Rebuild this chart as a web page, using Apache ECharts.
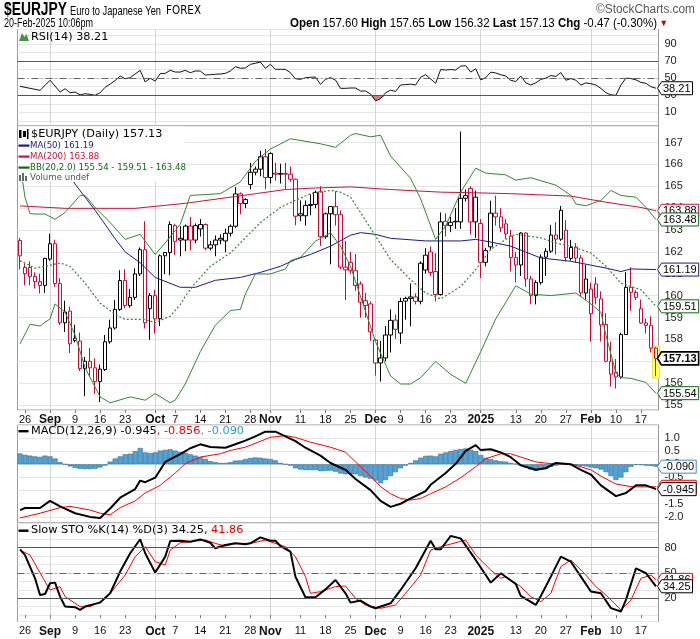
<!DOCTYPE html>
<html><head><meta charset="utf-8">
<script src="https://cdn.jsdelivr.net/npm/echarts@6/dist/echarts.min.js"></script>
<style>html,body{margin:0;padding:0;background:#fff}#c{width:700px;height:639px}</style>
</head><body><div id="c"></div>
<script>
const dates = ['2024-08-23','2024-08-26','2024-08-27','2024-08-28','2024-08-29','2024-08-30',
'2024-09-02','2024-09-03','2024-09-04','2024-09-05','2024-09-06','2024-09-09','2024-09-10','2024-09-11','2024-09-12','2024-09-13',
'2024-09-16','2024-09-17','2024-09-18','2024-09-19','2024-09-20','2024-09-23','2024-09-24','2024-09-25','2024-09-26','2024-09-27','2024-09-30',
'2024-10-01','2024-10-02','2024-10-03','2024-10-04','2024-10-07','2024-10-08','2024-10-09','2024-10-10','2024-10-11','2024-10-14','2024-10-15',
'2024-10-16','2024-10-17','2024-10-18','2024-10-21','2024-10-22','2024-10-23','2024-10-24','2024-10-25','2024-10-28','2024-10-29','2024-10-30','2024-10-31',
'2024-11-01','2024-11-04','2024-11-05','2024-11-06','2024-11-07','2024-11-08','2024-11-11','2024-11-12','2024-11-13','2024-11-14','2024-11-15',
'2024-11-18','2024-11-19','2024-11-20','2024-11-21','2024-11-22','2024-11-25','2024-11-26','2024-11-27','2024-11-28','2024-11-29',
'2024-12-02','2024-12-03','2024-12-04','2024-12-05','2024-12-06','2024-12-09','2024-12-10','2024-12-11','2024-12-12','2024-12-13',
'2024-12-16','2024-12-17','2024-12-18','2024-12-19','2024-12-20','2024-12-23','2024-12-24','2024-12-26','2024-12-27','2024-12-30','2024-12-31',
'2025-01-02','2025-01-03','2025-01-06','2025-01-07','2025-01-08','2025-01-09','2025-01-10','2025-01-13','2025-01-14','2025-01-15','2025-01-16','2025-01-17',
'2025-01-20','2025-01-21','2025-01-22','2025-01-23','2025-01-24','2025-01-27','2025-01-28','2025-01-29','2025-01-30','2025-01-31',
'2025-02-03','2025-02-04','2025-02-05','2025-02-06','2025-02-07','2025-02-10','2025-02-11','2025-02-12','2025-02-13','2025-02-14',
'2025-02-17','2025-02-18','2025-02-19','2025-02-20'];

const opens = [162.52,161.0,161.29,160.88,160.64,160.47,161.67,162.37,160.55,158.76,
159.29,157.95,157.92,156.67,157.0,156.7,156.07,156.62,157.89,158.52,
159.37,160.69,159.54,159.92,160.99,162.1,159.4,160.0,158.94,161.82,
161.97,163.2,162.62,162.54,163.18,162.54,163.05,163.25,162.17,162.32,
162.54,162.5,162.85,163.17,164.65,164.21,165.08,165.64,165.78,166.35,
165.4,165.6,165.55,165.58,165.55,165.32,163.74,163.65,164.12,164.17,
164.75,162.69,163.74,164.07,163.7,161.3,161.52,161.14,160.53,159.77,
159.62,157.97,156.92,157.15,158.2,158.88,158.29,159.75,159.87,159.94,
159.74,161.17,162.0,161.1,160.05,163.4,163.2,163.4,163.37,164.45,
164.9,163.37,163.3,161.52,162.23,163.77,163.6,163.28,162.72,161.74,
161.4,162.86,160.76,160.0,160.6,161.76,162.03,162.77,162.58,162.99,
161.7,162.22,161.72,160.12,159.17,160.53,159.85,158.68,157.0,156.5,
156.28,158.22,160.38,160.15,159.4,158.75,158.64,157.60];
const highs = [162.64,161.47,161.57,161.06,161.0,161.73,162.83,162.55,160.8,159.77,
159.5,158.67,158.31,157.2,157.6,157.13,156.85,158.2,158.9,159.8,
161.16,161.2,160.3,161.25,162.2,163.4,160.12,160.27,161.88,162.0,
163.4,163.28,163.18,163.25,163.6,163.3,163.5,163.3,162.5,162.75,
162.8,163.06,163.25,164.96,164.72,164.45,166.07,165.9,166.62,166.7,
166.55,166.07,166.03,166.07,165.9,165.35,164.35,164.35,164.63,164.8,
165.0,163.8,164.1,164.77,163.9,162.5,162.0,161.9,160.65,160.12,
159.74,158.02,157.93,158.61,159.37,159.14,159.9,159.95,160.56,160.1,
161.57,162.17,162.25,161.94,163.8,163.76,163.6,164.0,167.5,164.85,
165.0,164.8,163.5,162.17,164.34,164.57,164.0,163.5,163.0,162.0,
162.9,162.9,160.9,160.7,161.88,162.17,163.23,163.36,164.1,163.45,
162.55,162.4,161.85,161.4,160.6,160.85,160.2,159.2,157.9,157.1,
158.3,161.07,161.3,160.25,159.82,158.95,159.05,157.65];
const lows = [161.2,160.47,160.47,160.33,160.1,160.12,161.6,160.4,158.66,158.34,
157.38,157.86,156.55,155.4,156.27,155.51,155.14,156.55,157.8,158.45,
159.3,159.42,159.45,159.8,160.9,158.5,157.98,158.26,158.6,160.98,
160.93,161.86,161.8,162.03,162.07,162.4,162.7,162.07,162.07,161.8,
162.35,161.98,162.7,163.1,163.72,164.0,164.86,165.5,165.46,164.86,
165.13,165.26,165.13,164.87,165.2,163.22,163.4,163.2,163.67,164.0,
162.27,162.6,161.43,163.2,161.2,159.8,161.0,160.22,158.99,158.99,
157.93,156.34,156.07,157.0,157.4,158.02,157.8,158.9,158.6,159.6,
159.6,161.0,160.9,159.74,160.0,162.7,162.9,163.05,163.05,164.3,
162.8,162.64,160.8,161.34,162.1,163.2,162.9,162.6,161.1,160.6,
160.9,160.4,159.6,159.6,160.5,160.9,161.95,161.88,162.5,161.56,
161.6,161.5,159.95,159.82,157.89,159.6,157.9,156.95,155.84,155.75,
156.2,158.2,159.3,159.8,158.73,158.26,157.4,156.32];
const closes = [161.82,161.29,160.88,160.64,160.46,161.7,162.37,160.55,158.76,159.25,
157.8,158.05,156.66,157.0,156.7,156.07,156.64,157.89,158.52,159.37,
160.69,159.54,159.92,160.99,162.1,158.76,160.0,158.94,161.82,161.97,
163.25,162.48,162.54,163.18,162.54,163.2,163.25,162.17,162.32,162.54,
162.62,162.85,163.17,164.65,164.21,164.39,165.64,165.78,166.35,165.4,
166.5,165.55,165.58,165.55,165.32,163.63,163.65,164.12,164.17,164.72,
162.69,163.74,164.07,163.7,161.3,161.18,161.14,160.46,159.7,159.55,
158.34,156.92,157.15,158.2,158.87,158.46,159.73,159.87,159.94,159.74,
161.48,161.85,161.06,160.05,163.37,163.2,163.35,163.37,164.45,164.57,
163.37,164.5,161.52,162.06,163.77,163.6,163.1,162.82,161.74,161.4,
162.86,160.76,160.0,160.6,161.76,162.03,162.77,162.58,163.9,161.74,
162.2,161.72,160.12,160.76,160.3,159.92,158.66,157.0,156.41,156.28,
158.22,160.38,160.15,159.92,158.75,158.64,157.60,157.13];

const ma50 = [['2024-09-02',166.9],['2024-09-09',165.1],['2024-09-13',163.9],['2024-09-19',162.6],['2024-09-23',162.0],['2024-09-26',161.5],['2024-10-01',160.83],['2024-10-08',160.38],['2024-10-11',160.38],['2024-10-17',160.7],['2024-10-24',160.83],['2024-10-30',161.06],['2024-11-05',161.34],['2024-11-08',161.65],['2024-11-13',161.88],['2024-11-19',162.26],['2024-11-25',162.76],['2024-11-27',162.88],['2024-12-02',162.8],['2024-12-05',162.62],['2024-12-16',162.5],['2024-12-26',162.5],['2024-12-31',162.57],['2025-01-06',162.45],['2025-01-10',162.26],['2025-01-20',161.72],['2025-01-28',161.57],['2025-02-06',161.26],['2025-02-11',161.1],['2025-02-13',161.22],['2025-02-20',161.19]];
const ma200 = [['2024-08-23',164.1],['2024-09-05',163.99],['2024-09-25',163.99],['2024-10-09',164.22],['2024-10-23',164.53],['2024-11-06',164.85],['2024-11-14',164.92],['2024-11-25',164.97],['2024-12-05',164.85],['2024-12-19',164.73],['2024-12-31',164.70],['2025-01-10',164.66],['2025-01-28',164.55],['2025-02-06',164.27],['2025-02-17',164.03],['2025-02-20',163.88]];
const bbUpper = [['2024-08-23',166.0],['2024-08-26',164.5],['2024-08-27',163.75],['2024-08-28',163.73],['2024-08-30',163.73],['2024-09-03',163.49],['2024-09-05',163.8],['2024-09-10',164.58],['2024-09-11',164.58],['2024-09-13',164.03],['2024-09-18',163.34],['2024-09-23',162.57],['2024-09-26',162.8],['2024-10-01',161.88],['2024-10-03',162.41],['2024-10-08',163.26],['2024-10-10',164.58],['2024-10-18',164.66],['2024-10-24',165.2],['2024-10-29',166.14],['2024-11-01',166.7],['2024-11-07',167.17],['2024-11-15',166.94],['2024-11-20',166.78],['2024-11-25',167.33],['2024-11-26',167.41],['2024-11-29',167.26],['2024-12-03',167.33],['2024-12-05',166.38],['2024-12-11',165.36],['2024-12-13',164.43],['2024-12-18',162.57],['2024-12-20',163.18],['2024-12-26',164.73],['2024-12-31',165.83],['2025-01-03',165.6],['2025-01-09',165.52],['2025-01-13',165.28],['2025-01-16',165.39],['2025-01-23',165.05],['2025-01-28',164.58],['2025-01-29',164.19],['2025-01-31',164.11],['2025-02-05',164.35],['2025-02-07',164.81],['2025-02-11',164.58],['2025-02-14',164.5],['2025-02-18',164.03],['2025-02-20',163.48]];
const bbMid = [['2024-08-23',161.6],['2024-08-28',161.26],['2024-08-30',161.34],['2024-09-04',161.49],['2024-09-06',161.34],['2024-09-11',160.57],['2024-09-16',159.66],['2024-09-19',159.14],['2024-09-23',158.91],['2024-09-27',158.91],['2024-10-01',158.76],['2024-10-04',159.06],['2024-10-08',159.59],['2024-10-09',159.97],['2024-10-11',160.57],['2024-10-16',161.34],['2024-10-22',161.95],['2024-10-25',162.64],['2024-10-30',163.34],['2024-11-05',164.03],['2024-11-08',164.35],['2024-11-13',164.66],['2024-11-19',164.81],['2024-11-21',164.73],['2024-11-25',164.5],['2024-11-27',163.8],['2024-12-02',162.72],['2024-12-05',161.65],['2024-12-11',160.73],['2024-12-16',160.12],['2024-12-19',159.85],['2024-12-26',160.42],['2024-12-31',161.19],['2025-01-06',162.11],['2025-01-10',162.72],['2025-01-13',162.8],['2025-01-20',162.64],['2025-01-23',162.41],['2025-01-28',162.26],['2025-02-03',161.95],['2025-02-06',161.34],['2025-02-11',160.57],['2025-02-17',160.27],['2025-02-20',159.51]];
const bbLower = [['2024-08-23',157.79],['2024-08-27',158.69],['2024-08-29',158.61],['2024-09-02',158.94],['2024-09-03',159.62],['2024-09-05',159.24],['2024-09-09',158.19],['2024-09-11',156.7],['2024-09-16',155.37],['2024-09-18',155.1],['2024-09-24',155.37],['2024-09-27',155.22],['2024-10-01',155.52],['2024-10-04',155.1],['2024-10-07',155.22],['2024-10-09',155.96],['2024-10-14',157.44],['2024-10-17',158.64],['2024-10-22',159.32],['2024-10-24',159.37],['2024-10-25',160.07],['2024-10-29',160.99],['2024-11-01',160.99],['2024-11-06',161.22],['2024-11-07',161.6],['2024-11-11',161.75],['2024-11-14',162.49],['2024-11-19',162.87],['2024-11-21',162.26],['2024-11-25',161.34],['2024-12-02',157.89],['2024-12-05',156.33],['2024-12-09',155.96],['2024-12-11',155.96],['2024-12-13',156.25],['2024-12-18',156.99],['2024-12-23',156.4],['2024-12-27',155.99],['2025-01-02',157.44],['2025-01-07',158.94],['2025-01-13',160.45],['2025-01-16',160.07],['2025-01-22',160.0],['2025-01-29',160.12],['2025-02-03',159.62],['2025-02-05',159.24],['2025-02-06',158.19],['2025-02-10',156.47],['2025-02-11',156.25],['2025-02-13',156.22],['2025-02-18',156.03],['2025-02-20',155.54]];

const rsi = [40.5,39.3,38.1,37.0,35.8,41.6,47.5,40.8,33.8,37.7,
33.0,33.8,30.4,31.8,31.1,30.0,33.0,39.3,43.1,47.2,
52.5,49.3,50.5,54.8,59.1,45.5,49.8,46.6,55.2,55.6,
59.1,57.1,57.1,59.1,56.3,58.3,58.3,53.6,54.0,54.5,
54.8,55.6,58.3,63.3,61.5,61.8,66.1,67.3,68.8,61.5,
66.1,60.3,60.3,60.3,56.3,49.3,48.6,50.5,51.0,51.3,
42.8,48.6,50.5,47.8,38.1,38.1,38.5,38.5,35,35,
31.5,23.5,26,33,36,34.5,42,42.5,43,42,
51,54,49,44,60,59.5,60,59.5,64,64.5,
57,61,48,50.5,57,56,54,52.5,47.5,46,
52.5,44.5,42,44.5,48.5,50,53,52,56.5,47.5,
49.5,47.5,42,44.5,43.5,42,38,33,30.5,30,
42,50,49.5,48,45,44,40,38.21];

const macdHist = [0.41,0.36,0.33,0.30,0.28,0.33,0.30,0.22,0.08,0.0,
-0.08,-0.14,-0.17,-0.18,-0.18,-0.17,-0.12,-0.05,0.1,0.22,
0.3,0.38,0.4,0.5,0.62,0.45,0.43,0.45,0.52,0.55,
0.57,0.52,0.47,0.44,0.38,0.33,0.28,0.2,0.12,0.08,
0.05,0.05,0.08,0.14,0.15,0.2,0.24,0.26,0.25,0.22,
0.2,0.15,0.05,0.0,-0.05,-0.15,-0.2,-0.22,-0.22,-0.22,
-0.26,-0.25,-0.24,-0.28,-0.35,-0.38,-0.37,-0.38,-0.45,-0.5,
-0.55,-0.62,-0.72,-0.6,-0.45,-0.3,-0.15,-0.05,0.05,0.15,
0.25,0.32,0.33,0.3,0.4,0.45,0.5,0.55,0.58,0.6,
0.55,0.5,0.35,0.25,0.2,0.15,0.12,0.1,0.05,0.02,
-0.05,-0.12,-0.2,-0.25,-0.2,-0.15,-0.1,-0.05,0.0,0.02,
0.0,-0.03,-0.06,-0.08,-0.12,-0.15,-0.2,-0.3,-0.45,-0.6,
-0.5,-0.3,-0.1,-0.02,-0.03,-0.05,-0.06,-0.09];
const macdLine = [['2024-08-23',-1.74],['2024-08-26',-1.66],['2024-08-29',-1.66],['2024-09-02',-1.39],['2024-09-04',-1.6],['2024-09-09',-1.86],['2024-09-12',-2.0],['2024-09-16',-2.04],['2024-09-18',-1.68],['2024-09-20',-1.27],['2024-09-25',-0.94],['2024-09-26',-0.62],['2024-09-27',-0.68],['2024-10-01',-0.51],['2024-10-03',0.09],['2024-10-08',0.39],['2024-10-10',0.61],['2024-10-14',0.76],['2024-10-16',0.66],['2024-10-21',0.63],['2024-10-23',0.76],['2024-10-25',0.9],['2024-10-29',1.06],['2024-10-31',1.24],['2024-11-04',1.24],['2024-11-06',1.06],['2024-11-08',0.88],['2024-11-12',0.63],['2024-11-15',0.33],['2024-11-19',0.05],['2024-11-22',-0.21],['2024-11-26',-0.56],['2024-11-29',-0.98],['2024-12-03',-1.39],['2024-12-05',-1.62],['2024-12-09',-1.5],['2024-12-11',-1.3],['2024-12-16',-1.02],['2024-12-17',-0.78],['2024-12-20',-0.33],['2024-12-24',0.02],['2024-12-27',0.51],['2024-12-31',0.73],['2025-01-02',0.54],['2025-01-06',0.57],['2025-01-08',0.45],['2025-01-10',0.27],['2025-01-14',-0.04],['2025-01-17',-0.21],['2025-01-21',-0.15],['2025-01-23',0.05],['2025-01-28',0.0],['2025-01-30',-0.21],['2025-02-03',-0.39],['2025-02-05',-0.8],['2025-02-10',-1.21],['2025-02-12',-1.09],['2025-02-14',-0.8],['2025-02-18',-0.8],['2025-02-20',-0.945]];
const macdSignal = [['2024-08-23',-2.04],['2024-08-29',-1.86],['2024-09-04',-1.65],['2024-09-06',-1.6],['2024-09-12',-1.74],['2024-09-16',-1.86],['2024-09-18',-1.92],['2024-09-20',-1.65],['2024-09-25',-1.39],['2024-09-27',-1.09],['2024-10-02',-0.8],['2024-10-07',-0.33],['2024-10-09',0.025],['2024-10-14',0.275],['2024-10-18',0.4],['2024-10-22',0.525],['2024-10-25',0.65],['2024-10-30',0.875],['2024-11-01',1.025],['2024-11-06',1.09],['2024-11-08',1.025],['2024-11-13',0.84],['2024-11-19',0.65],['2024-11-22',0.46],['2024-11-26',0.09],['2024-11-29',-0.45],['2024-12-03',-0.85],['2024-12-05',-1.12],['2024-12-09',-1.3],['2024-12-11',-1.36],['2024-12-13',-1.3],['2024-12-17',-1.12],['2024-12-20',-0.86],['2024-12-26',-0.51],['2024-12-31',-0.09],['2025-01-03',0.21],['2025-01-08',0.4],['2025-01-10',0.4],['2025-01-14',0.275],['2025-01-17',0.09],['2025-01-22',0.025],['2025-01-24',0.025],['2025-01-29',-0.035],['2025-02-03',-0.21],['2025-02-05',-0.45],['2025-02-10',-0.75],['2025-02-13',-0.85],['2025-02-17',-0.86],['2025-02-20',-0.856]];

const stoK = [['2024-08-23',78],['2024-08-26',71.3],['2024-08-28',43.7],['2024-08-29',24],['2024-08-30',25.1],['2024-09-02',37.8],['2024-09-03',38.6],['2024-09-04',22],['2024-09-05',10.2],['2024-09-09',9.5],['2024-09-10',6.3],['2024-09-11',10.2],['2024-09-13',13.4],['2024-09-16',14.9],['2024-09-18',26],['2024-09-20',51.7],['2024-09-24',73.4],['2024-09-26',90],['2024-09-27',73.4],['2024-10-01',50.5],['2024-10-03',69.4],['2024-10-04',87.9],['2024-10-08',88.3],['2024-10-10',87.1],['2024-10-14',89.9],['2024-10-16',85.9],['2024-10-17',79.3],['2024-10-21',83.2],['2024-10-23',85.2],['2024-10-25',84],['2024-10-28',85.2],['2024-10-30',92.3],['2024-11-01',88.3],['2024-11-04',88.3],['2024-11-05',82],['2024-11-07',75.3],['2024-11-08',45.7],['2024-11-12',21.2],['2024-11-14',21.2],['2024-11-18',30.6],['2024-11-20',41.7],['2024-11-22',25.9],['2024-11-25',14.9],['2024-11-27',17.3],['2024-11-29',10.2],['2024-12-02',8.3],['2024-12-05',14.1],['2024-12-09',29.9],['2024-12-12',55.6],['2024-12-17',88.3],['2024-12-18',78.1],['2024-12-19',78.1],['2024-12-23',93.9],['2024-12-26',91.1],['2024-12-31',65.5],['2025-01-03',47.7],['2025-01-06',38.6],['2025-01-08',49.7],['2025-01-13',37],['2025-01-14',22.8],['2025-01-17',12.2],['2025-01-20',22.8],['2025-01-22',45.7],['2025-01-24',69.4],['2025-01-28',63.4],['2025-01-30',45.7],['2025-02-03',28],['2025-02-05',26],['2025-02-07',8.3],['2025-02-11',4.3],['2025-02-12',18.1],['2025-02-14',55.6],['2025-02-18',49.7],['2025-02-20',34.25]];
const stoD = [['2024-08-23',77.2],['2024-08-27',71.3],['2024-08-30',39.7],['2024-09-02',29.9],['2024-09-04',33.8],['2024-09-05',22],['2024-09-10',10.1],['2024-09-12',10.1],['2024-09-16',16],['2024-09-18',25.9],['2024-09-23',47.6],['2024-09-25',69.3],['2024-09-27',81.2],['2024-10-01',63.4],['2024-10-03',59.5],['2024-10-04',77.2],['2024-10-08',85.9],['2024-10-10',87.1],['2024-10-15',89.1],['2024-10-17',85.1],['2024-10-21',82],['2024-10-23',85.1],['2024-10-28',85.1],['2024-10-31',89.1],['2024-11-01',87.1],['2024-11-06',81.2],['2024-11-08',69.3],['2024-11-12',45.7],['2024-11-13',25.9],['2024-11-15',27.9],['2024-11-20',33.8],['2024-11-22',34.6],['2024-11-26',20],['2024-11-28',12.1],['2024-12-03',8.1],['2024-12-06',12.1],['2024-12-10',25.9],['2024-12-13',47.6],['2024-12-17',77.2],['2024-12-19',81.2],['2024-12-23',84.3],['2024-12-27',89.1],['2024-12-31',71.3],['2025-01-06',53.5],['2025-01-08',43.7],['2025-01-09',45.7],['2025-01-14',33.8],['2025-01-16',22],['2025-01-20',16],['2025-01-22',25.9],['2025-01-24',57.5],['2025-01-28',65.4],['2025-01-31',47.6],['2025-02-04',33.8],['2025-02-06',23.9],['2025-02-11',6.2],['2025-02-13',18],['2025-02-17',43.7],['2025-02-19',47.6],['2025-02-20',41.86]];

const tickLabels = {'2024-08-26':'26','2024-09-02':'Sep','2024-09-09':'9','2024-09-16':'16','2024-09-23':'23','2024-10-01':'Oct','2024-10-07':'7','2024-10-14':'14','2024-10-21':'21','2024-10-28':'28','2024-11-01':'Nov','2024-11-11':'11','2024-11-18':'18','2024-11-25':'25','2024-12-02':'Dec','2024-12-09':'9','2024-12-16':'16','2024-12-23':'23','2025-01-02':'2025','2025-01-13':'13','2025-01-20':'20','2025-01-27':'27','2025-02-03':'Feb','2025-02-10':'10','2025-02-17':'17'};
const monthStarts = ['2024-09-02','2024-10-01','2024-11-01','2024-12-02','2025-01-02','2025-02-03'];

const RED = '#cf0a36', BLACK = '#000', GREEN = '#2f8a2f', DGREEN = '#0b6b0b', NAVY = '#1a1a8c', MARED = '#d0103a', HISTC = '#54a3d3';
const F = '"DejaVu Sans", Verdana, sans-serif';
const AF = '"Liberation Sans", Arial, sans-serif';
const last = dates.length - 1;
const lastV = a => a[a.length - 1][1];

const mctx = document.createElement('canvas').getContext('2d');
const measure = (s, font) => { mctx.font = font; return mctx.measureText(s).width; };

const candles = dates.map((d, i) => {
  const c = (i === 0 || closes[i] < closes[i - 1]) ? RED : BLACK;
  return { value: [opens[i], closes[i], lows[i], highs[i]],
    itemStyle: { color: '#fff', color0: c, borderColor: c, borderColor0: c } };
});
const rsiFill = rsi.map(v => Math.min(v, 30));

const GL = 17.5, GW = 641;
const grids = [
  { left: GL, width: GW, top: 29.5, height: 96.5 },
  { left: GL, width: GW, top: 126, height: 284 },
  { left: GL, width: GW, top: 425, height: 98 },
  { left: GL, width: GW, top: 523, height: 98.5 }
].map(g => Object.assign(g, { show: true, borderColor: '#9a9a9a', borderWidth: 1, backgroundColor: '#fff' }));

const isTick = (i, v) => Object.prototype.hasOwnProperty.call(tickLabels, v);
const isMonth = (i, v) => monthStarts.indexOf(v) >= 0;
function xAx(k, labels) {
  return { type: 'category', gridIndex: k, data: dates, boundaryGap: true,
    axisLine: { show: false },
    axisTick: { show: labels, interval: isTick, alignWithLabel: true, length: 3, lineStyle: { color: '#777' } },
    splitLine: { show: true, interval: isMonth, alignWithLabel: true, lineStyle: { color: '#d4d4d4', width: 1 } },
    axisLabel: { show: labels, interval: isTick, margin: 4, color: '#111', fontFamily: AF, fontSize: 11,
      formatter: v => { const t = tickLabels[v] || ''; return monthStarts.indexOf(v) >= 0 ? '{b|' + t + '}' : t; },
      rich: { b: { fontWeight: 'bold', fontSize: 12, fontFamily: AF, color: '#111' } } } };
}
function yAx(k, min, max, split, fmt) {
  return { type: 'value', gridIndex: k, position: 'right', min: min, max: max, splitNumber: split,
    axisLine: { show: true, lineStyle: { color: '#9a9a9a' } }, axisTick: { show: false },
    splitLine: { show: true, lineStyle: { color: '#e6e6e6' } },
    axisLabel: { color: '#222', fontFamily: AF, fontSize: 11, margin: 6, formatter: fmt } };
}
const near = (v, s) => Math.abs(v / s - Math.round(v / s)) < 1e-6;
function hline(val, style) {
  return { yAxis: val, label: { show: false }, lineStyle: Object.assign({ color: '#555', width: 1, type: 'solid' }, style || {}) };
}
const ml = data => ({ silent: true, symbol: 'none', animation: false, data: data });
const lineS = (name, x, data, color, width, extra) => Object.assign({
  name: name, type: 'line', xAxisIndex: x, yAxisIndex: x, data: data, symbol: 'none',
  lineStyle: { color: color, width: width }, itemStyle: { color: color }, z: 3
}, extra || {});

const chg = closes[last] - closes[last - 1];
const hdrParts = [['Open', 1], [' ' + opens[last].toFixed(2) + ' ', 0], ['High', 1], [' ' + highs[last].toFixed(2) + ' ', 0],
  ['Low', 1], [' ' + lows[last].toFixed(2) + ' ', 0], ['Last', 1], [' ' + closes[last].toFixed(2) + ' ', 0],
  ['Chg', 1], [' ' + chg.toFixed(2) + ' (' + (chg / closes[last - 1] * 100).toFixed(2) + '%)', 0]];
const HF = '12px ' + AF, HFB = 'bold 12px ' + AF;
const hdrText = hdrParts.map(p => p[1] ? '{b|' + p[0] + '}' : '{n|' + p[0] + '}').join('') + '{r| ▼}';
const hdrW = hdrParts.reduce((s, p) => s + measure(p[0], p[1] ? HFB : HF), 0) + measure(' ▼', '9px ' + AF);

const t = (x, y, text, font, fill, extra, sx) => ({ type: 'text', x: x, y: y, z: 100, scaleX: sx || 1,
  style: Object.assign({ text: text, font: font, fill: fill || '#000', verticalAlign: 'middle' }, extra || {}) });
const fit = (x, y, text, font, fill, w, extra) => t(x, y, text, font, fill, extra, w / measure(text, font));
const bar = (x, y, w, h, fill) => ({ type: 'rect', z: 100, shape: { x: x, y: y, width: w, height: h }, style: { fill: fill } });
const LF = '11.3px ' + F, SF = '8.6px ' + F;

const graphic = [
  fit(4, 10, '$EURJPY', 'bold 19px ' + AF, '#000', 63),
  fit(70, 11, 'Euro to Japanese Yen', '13px ' + AF, '#000', 91),
  fit(166, 11, 'FOREX', '12px ' + F, '#000', 35),
  fit(4, 24, '20-Feb-2025 10:06pm', '12px ' + AF, '#000', 89),
  t(668, 24, hdrText, HF, '#000', { align: 'right', rich: { b: { font: HFB, fill: '#000' }, n: { font: HF, fill: '#000' }, r: { font: '9px ' + AF, fill: '#c00' } } }, 378 / hdrW),
  fit(596, 10, '©StockCharts.com', '12px ' + AF, '#555', 99),
  { type: 'polygon', z: 100, shape: { points: [[19, 41], [22, 33], [24.5, 37], [26.5, 34], [29, 41]] }, style: { fill: '#4f8f4f' } },
  t(31, 37, 'RSI(14) ' + rsi[last].toFixed(2), LF),
  bar(18.5, 126.5, 166, 55.5, '#fff'),
  bar(19, 130, 2.5, 8, '#000'), bar(23, 131, 3, 6, '#000'), bar(27, 129, 1.5, 10, '#000'),
  t(31, 134, '$EURJPY (Daily) ' + closes[last].toFixed(2), LF),
  bar(18.5, 144.5, 11, 2.2, NAVY),
  t(30, 145.5, 'MA(50) ' + lastV(ma50).toFixed(2), SF, NAVY),
  bar(18.5, 155.5, 11, 2.2, MARED),
  t(30, 156.5, 'MA(200) ' + lastV(ma200).toFixed(2), SF, MARED),
  bar(18.5, 166.5, 11, 2.2, DGREEN),
  t(30, 167.5, 'BB(20,2.0) ' + lastV(bbLower).toFixed(2) + ' - ' + lastV(bbMid).toFixed(2) + ' - ' + lastV(bbUpper).toFixed(2), SF, DGREEN),
  bar(19, 175, 2, 6, '#666'), bar(22, 173, 2, 8, '#666'), bar(25, 176, 2, 5, '#666'),
  t(30, 178, 'Volume undef', SF, '#555'),
  bar(18.5, 430, 10, 2.4, '#000'),
  t(31, 431, '{k|MACD(12,26,9) ' + lastV(macdLine).toFixed(3) + '}{r|, ' + lastV(macdSignal).toFixed(3) + '}{h|, ' + macdHist[last].toFixed(3) + '}', LF, '#000',
    { rich: { k: { font: LF, fill: '#000' }, r: { font: LF, fill: '#e00' }, h: { font: LF, fill: '#3399cc' } } }),
  bar(18.5, 529.5, 10, 2.4, '#000'),
  t(31, 530.5, '{k|Slow STO %K(14) %D(3) ' + lastV(stoK).toFixed(2) + ', }{r|' + lastV(stoD).toFixed(2) + '}', LF, '#000',
    { rich: { k: { font: LF, fill: '#000' }, r: { font: LF, fill: '#e00' } } })
];

const option = {
  animation: false,
  backgroundColor: '#fff',
  grid: grids,
  xAxis: [xAx(0, false), xAx(1, true), xAx(2, false), xAx(3, true)],
  yAxis: [
    yAx(0, -5.8, 106.7, 11, v => near(v, 10) && [10, 30, 50, 70, 90].indexOf(Math.round(v)) >= 0 ? String(Math.round(v)) : ''),
    yAx(1, 154.771, 167.754, 13, v => near(v, 1) ? String(Math.round(v)) : ''),
    yAx(2, -2.232, 1.494, 7, v => near(v, 0.5) ? (Math.round(v * 2) / 2).toFixed(1) : ''),
    yAx(3, -7.5, 109.3, 12, v => near(v, 10) && [20, 50, 80].indexOf(Math.round(v)) >= 0 ? String(Math.round(v)) : '')
  ],
  series: [
    { type: 'line', xAxisIndex: 0, yAxisIndex: 0, data: rsiFill, symbol: 'none', lineStyle: { width: 0 },
      areaStyle: { origin: 30, color: '#d67a7a', opacity: 1 }, z: 2, silent: true },
    lineS('RSI', 0, rsi, '#111', 1, { z: 4, markLine: ml([
      hline(70), hline(30), hline(50, { color: '#666', type: [7, 3, 1, 3] })]) }),
    { type: 'custom', xAxisIndex: 1, yAxisIndex: 1, z: 1, silent: true,
      data: [[last, highs[last], lows[last]]], encode: { x: 0, y: [1, 2] },
      renderItem: (params, api) => {
        const a = api.coord([api.value(0), api.value(1)]);
        const b = api.coord([api.value(0), api.value(2)]);
        return { type: 'rect', shape: { x: a[0] - 3.6, y: a[1] - 1, width: 7.2, height: b[1] - a[1] + 3 },
          style: { fill: '#ffff66', stroke: '#f0e24a', lineWidth: 1 } };
      } },
    { name: '$EURJPY', type: 'candlestick', xAxisIndex: 1, yAxisIndex: 1, data: candles, barWidth: 4, z: 2 },
    lineS('MA(200)', 1, ma200, MARED, 1),
    lineS('MA(50)', 1, ma50, NAVY, 1),
    lineS('BB upper', 1, bbUpper, GREEN, 1),
    lineS('BB mid', 1, bbMid, GREEN, 1.2, { lineStyle: { color: GREEN, width: 1.2, type: [2, 2] } }),
    lineS('BB lower', 1, bbLower, GREEN, 1),
    { name: 'Hist', type: 'bar', xAxisIndex: 2, yAxisIndex: 2, data: macdHist, barCategoryGap: '0%',
      itemStyle: { color: HISTC, borderColor: '#2b6e9c', borderWidth: 0.6 }, z: 2 },
    lineS('Signal', 2, macdSignal, '#f00', 1),
    lineS('MACD', 2, macdLine, '#000', 2),
    lineS('%D', 3, stoD, '#f00', 1, { markLine: ml([
      hline(80), hline(20), hline(50, { color: '#666', type: [7, 3, 1, 3] })]) }),
    lineS('%K', 3, stoK, '#000', 2)
  ]
};
const chart = echarts.init(document.getElementById('c'), null, { renderer: 'canvas' });
chart.setOption(option);

// value tags on the right axis, placed through the axes' own scales
const tagDefs = [
  [0, rsi[last], '#000', 2],
  [1, lastV(ma200), MARED, 2], [1, lastV(bbUpper), DGREEN, 2], [1, lastV(ma50), NAVY, 2],
  [1, lastV(bbMid), DGREEN, 2], [1, lastV(bbLower), DGREEN, 2], [1, closes[last], '#000', 2, true],
  [2, macdHist[last], '#3a8fc4', 3], [2, lastV(macdSignal), '#f00', 3], [2, lastV(macdLine), '#000', 3],
  [3, lastV(stoD), '#f00', 2], [3, lastV(stoK), '#000', 2]
];
const tagEls = [];
tagDefs.forEach((d, n) => {
  const y = chart.convertToPixel({ yAxisIndex: d[0] }, d[1]);
  const txt = d[1].toFixed(d[3]);
  const font = (d[4] ? 'bold ' : '') + '11px ' + AF;
  const w = measure(txt, font);
  const x0 = 657.5, xb = 661.5, xr = Math.min(699, xb + w + 3.5), h = 6.5;
  tagEls.push({ type: 'polygon', z: 110 + n, shape: { points: [[x0, y], [xb, y - h], [xr, y - h], [xr, y + h], [xb, y + h]] },
    style: { fill: '#fff', stroke: d[2], lineWidth: d[4] ? 1.6 : 1 } });
  tagEls.push({ type: 'text', z: 110 + n, x: xb + 1.5, y: y + 0.5, style: { text: txt, font: font, fill: '#000', verticalAlign: 'middle' } });
});
chart.setOption({ graphic: graphic.concat(tagEls) });
</script></body></html>
